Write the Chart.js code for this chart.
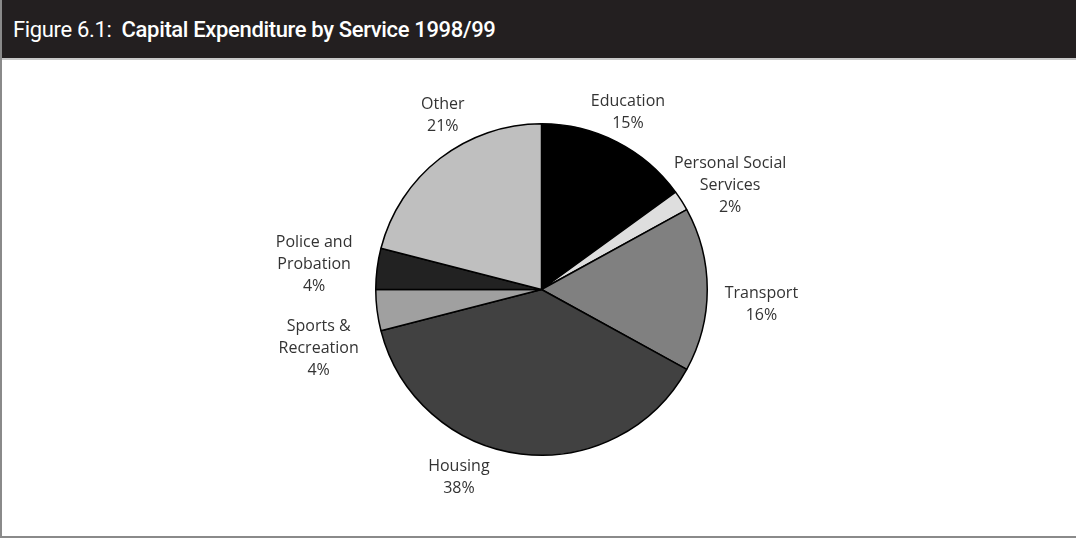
<!DOCTYPE html>
<html>
<head>
<meta charset="utf-8">
<script src="https://cdn.jsdelivr.net/npm/chart.js@4/dist/chart.umd.min.js"></script>
<style>
  body { margin: 0; background: #fff; }
  #frame {
    position: absolute; left: 0; top: 0; width: 1076px; height: 538px;
    box-sizing: border-box; border-left: 2px solid #8a8a8a; border-bottom: 2px solid #8a8a8a;
  }
  #header {
    height: 58px; background: #231f20; color: #fff; border-bottom: 2px solid #c8c8c8;
    font-family: Roboto, "Liberation Sans", sans-serif; font-size: 22px; letter-spacing: -0.35px;
    line-height: 60px; padding-left: 11px; white-space: pre;
  }
  #header b { font-weight: 500; }
  #wrap { position: absolute; left: 0; top: 60px; width: 1074px; height: 476px; }
</style>
</head>
<body>
<div id="frame">
  <div id="header">Figure 6.1:  <b>Capital Expenditure by Service 1998/99</b></div>
  <div id="wrap"><canvas id="pieChart"></canvas></div>
</div>
<script>
// Data (clockwise from 12 o'clock)
const services = [
  ['Education'],
  ['Personal Social', 'Services'],
  ['Transport'],
  ['Housing'],
  ['Sports &', 'Recreation'],
  ['Police and', 'Probation'],
  ['Other']
];
const shares = [15, 2, 16, 38, 4, 4, 21];
const sliceColors = ['#000000', '#dedede', '#808080', '#414141', '#a0a0a0', '#222222', '#bfbfbf'];

// label placement relative to each slice: radius factor and angle nudge (deg)
const labelPlacement = [
  { r: 1.19, turn: -1 },
  { r: 1.30, turn: 3.5 },
  { r: 1.33, turn: 4 },
  { r: 1.24, turn: 16.5 },
  { r: 1.39, turn: -7.5 },
  { r: 1.38, turn: -1 },
  { r: 1.21, turn: 8.3 }
];

const sliceLabels = {
  id: 'sliceLabels',
  afterDatasetsDraw(chart) {
    const ctx = chart.ctx;
    const meta = chart.getDatasetMeta(0);
    ctx.save();
    ctx.font = '16px "Open Sans", sans-serif';
    ctx.fillStyle = '#333333';
    ctx.textAlign = 'center';
    ctx.textBaseline = 'middle';
    const lineH = 22;
    meta.data.forEach(function(arc, i) {
      const p = arc.getProps(['x', 'y', 'startAngle', 'endAngle', 'outerRadius'], true);
      const place = labelPlacement[i];
      const mid = (p.startAngle + p.endAngle) / 2 + place.turn * Math.PI / 180;
      const cx = p.x + Math.cos(mid) * p.outerRadius * place.r;
      const cy = p.y + Math.sin(mid) * p.outerRadius * place.r;
      const lines = services[i].concat([shares[i] + '%']);
      const top = cy - (lines.length - 1) * lineH / 2;
      lines.forEach(function(t, k) {
        ctx.fillText(t, cx, top + k * lineH);
      });
    });
    ctx.restore();
  }
};

const ctx = document.getElementById('pieChart').getContext('2d');
new Chart(ctx, {
  type: 'pie',
  data: {
    labels: services.map(s => s.join(' ')),
    datasets: [{
      data: shares,
      backgroundColor: sliceColors,
      borderColor: '#000000',
      borderWidth: 1.5
    }]
  },
  options: {
    responsive: true,
    maintainAspectRatio: false,
    animation: false,
    layout: { padding: { top: 63, bottom: 80, left: 5, right: 0 } },
    plugins: {
      legend: { display: false },
      tooltip: { enabled: false }
    }
  },
  plugins: [sliceLabels]
});
</script>
</body>
</html>
